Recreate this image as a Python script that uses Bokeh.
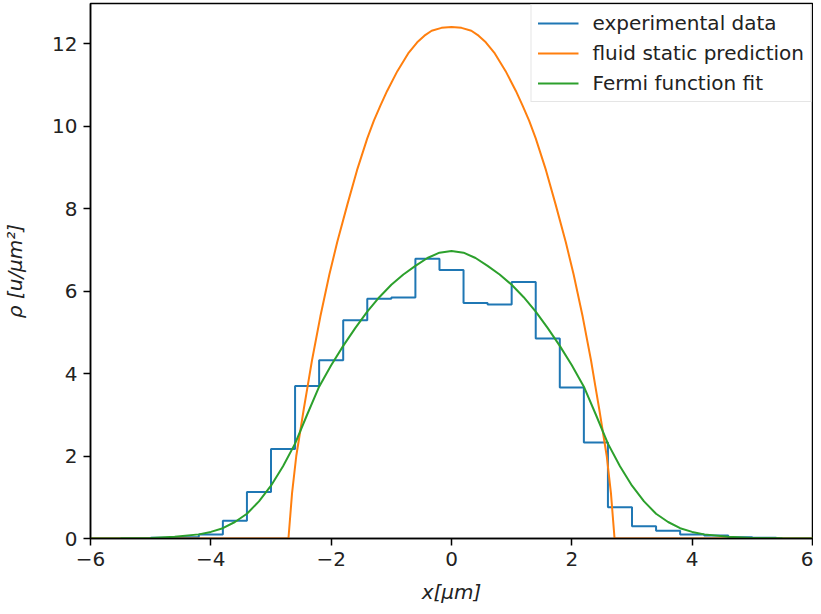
from bokeh.plotting import figure
from bokeh.models import Range1d, FixedTicker, Legend, LegendItem
from bokeh.embed import file_html
from bokeh.resources import INLINE

# ---------------- data ----------------
bin_edges = [-5.0, -4.6, -4.2, -3.8, -3.4, -3.0, -2.6, -2.2, -1.8, -1.4, -1.0,
             -0.6, -0.2, 0.2, 0.6, 1.0, 1.4, 1.8, 2.2, 2.6, 3.0, 3.4, 3.8,
             4.2, 4.6, 5.0, 5.4]
hist_values = [0.02, 0.03, 0.10, 0.43, 1.13, 2.17, 3.70, 4.32, 5.29, 5.81,
               5.84, 6.78, 6.51, 5.71, 5.67, 6.22, 4.85, 3.66, 2.33, 0.76,
               0.30, 0.19, 0.10, 0.07, 0.03, 0.02]

fluid_x = [-6.0, -2.71, -2.65, -2.58, -2.455, -2.39, -2.32, -2.18, -2.03, -1.9,
           -1.73, -1.57, -1.4, -1.29, -1.18, -1.07, -0.9, -0.72, -0.57, -0.45,
           -0.33, -0.166, 0.0, 0.166, 0.33, 0.45, 0.57, 0.72, 0.9, 1.07, 1.18,
           1.29, 1.4, 1.57, 1.73, 1.9, 2.03, 2.18, 2.32, 2.39, 2.455, 2.58,
           2.65, 2.71, 6.0]
fluid_y = [0.0, 0.0, 1.10, 2.00, 3.14, 3.70, 4.31, 5.38, 6.40, 7.18,
           8.10, 8.93, 9.70, 10.13, 10.50, 10.85, 11.33, 11.76, 12.03, 12.19,
           12.31, 12.38, 12.40, 12.38, 12.31, 12.19, 12.03, 11.76, 11.33, 10.85, 10.50,
           10.13, 9.70, 8.93, 8.10, 7.18, 6.40, 5.38, 4.31, 3.70, 3.14, 2.00,
           1.10, 0.0, 0.0]

fermi_x = [-6.0, -5.5, -5.0, -4.6, -4.2, -4.0, -3.8, -3.6, -3.4, -3.2, -3.0,
           -2.8, -2.6, -2.4, -2.2, -2.0, -1.8, -1.6, -1.4, -1.2, -1.0, -0.8,
           -0.6, -0.4, -0.2, 0.0, 0.2, 0.4, 0.6, 0.8, 1.0, 1.2, 1.4, 1.6, 1.8,
           2.0, 2.2, 2.4, 2.6, 2.8, 3.0, 3.2, 3.4, 3.6, 3.8, 4.0, 4.2, 4.6,
           5.0, 5.5, 6.0]
fermi_y = [0.002, 0.005, 0.015, 0.04, 0.10, 0.16, 0.25, 0.40, 0.60, 0.90, 1.28,
           1.75, 2.30, 3.00, 3.68, 4.20, 4.67, 5.10, 5.50, 5.85, 6.15, 6.40,
           6.61, 6.80, 6.93, 6.97, 6.93, 6.80, 6.61, 6.40, 6.15, 5.85, 5.50, 5.10, 4.67,
           4.20, 3.68, 3.00, 2.30, 1.75, 1.28, 0.90, 0.60, 0.40, 0.25, 0.16, 0.10, 0.04,
           0.015, 0.005, 0.002]

x_ticks = [-6, -4, -2, 0, 2, 4, 6]
x_tick_labels = ["\u22126", "\u22124", "\u22122", "0", "2", "4", "6"]
y_ticks = [0, 2, 4, 6, 8, 10, 12]
y_tick_labels = ["0", "2", "4", "6", "8", "10", "12"]

series_labels = ["experimental data", "fluid static prediction", "Fermi function fit"]
x_label = "x[\u03bcm]"
y_label = "\u03c1 [u/\u03bcm\u00b2]"

# ---------------- figure ----------------
FONT = "DejaVu Sans"
FS = "20px"

p = figure(width=813, height=606, output_backend="svg", toolbar_location=None,
           x_range=Range1d(-6, 6), y_range=Range1d(0, 12.97),
           min_border_left=90, min_border_right=1, min_border_top=3,
           min_border_bottom=66)
p.grid.visible = False
p.outline_line_color = "black"
p.outline_line_width = 1.5
p.background_fill_color = "white"
p.border_fill_color = "white"

blue, orange, green = "#1f77b4", "#ff7f0e", "#2ca02c"

r_hist = p.step(x=bin_edges, y=hist_values + [hist_values[-1]], mode="after",
                line_color=blue, line_width=2)
r_fluid = p.line(fluid_x, fluid_y, line_color=orange, line_width=2)
r_fermi = p.line(fermi_x, fermi_y, line_color=green, line_width=2)

for ax, ticks, labels in ((p.xaxis[0], x_ticks, x_tick_labels),
                          (p.yaxis[0], y_ticks, y_tick_labels)):
    ax.ticker = FixedTicker(ticks=ticks)
    ax.major_label_overrides = {t: l for t, l in zip(ticks, labels)}
    ax.major_tick_out = 7
    ax.major_tick_in = 0
    ax.minor_tick_line_color = None
    ax.axis_line_color = "black"
    ax.axis_line_width = 1.5
    ax.major_tick_line_width = 1.5
    ax.major_label_text_font = FONT
    ax.major_label_text_font_size = FS
    ax.major_label_text_color = "#222222"
    ax.major_label_standoff = 6
    ax.axis_label_text_font = FONT
    ax.axis_label_text_font_size = FS
    ax.axis_label_text_font_style = "italic"
    ax.axis_label_text_color = "#222222"

p.xaxis.axis_label = x_label
p.yaxis.axis_label = y_label
p.xaxis.axis_label_standoff = 11
p.yaxis.axis_label_standoff = 22

legend = Legend(items=[LegendItem(label=series_labels[0], renderers=[r_hist]),
                       LegendItem(label=series_labels[1], renderers=[r_fluid]),
                       LegendItem(label=series_labels[2], renderers=[r_fermi])],
                location="top_right", margin=1, padding=6, spacing=6,
                glyph_width=41, glyph_height=20, label_height=20,
                label_standoff=14, label_text_font=FONT,
                label_text_font_size=FS, label_text_color="#222222",
                border_line_color="#cccccc", border_line_width=1.5,
                background_fill_color="white", background_fill_alpha=0.8)
p.add_layout(legend)

open("out.html", "w").write(file_html(p, INLINE))
